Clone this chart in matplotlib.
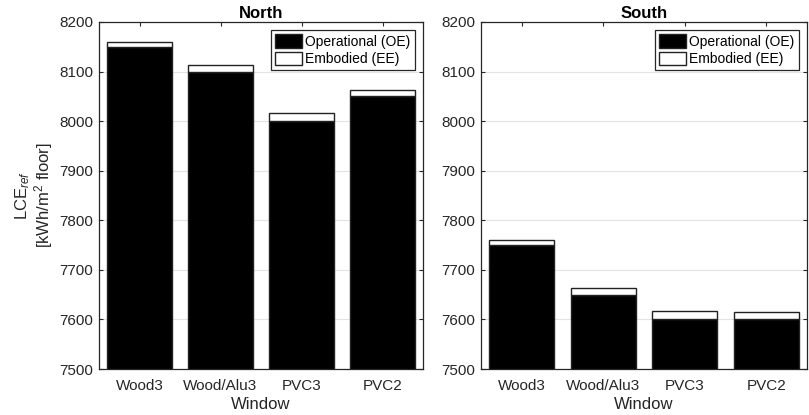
import matplotlib
matplotlib.use("Agg")
import matplotlib.pyplot as plt
import numpy as np

plt.rcParams['font.family'] = ['Liberation Sans', 'DejaVu Sans']
plt.rcParams['mathtext.fontset'] = 'custom'
plt.rcParams['mathtext.rm'] = 'Liberation Sans'
plt.rcParams['mathtext.it'] = 'Liberation Sans:italic'

windows = ['Wood3', 'Wood/Alu3', 'PVC3', 'PVC2']
north_oe = [8150, 8100, 8000, 8050]
north_ee = [10, 13, 17, 13]
south_oe = [7750, 7650, 7600, 7600]
south_ee = [10, 13, 17, 14]
titles = ['North', 'South']
yticks = [7500, 7600, 7700, 7800, 7900, 8000, 8100, 8200]

fig = plt.figure(figsize=(8.09, 4.15), dpi=100)
W, H = 809, 415
axes = [fig.add_axes([99/W, 1-369/H, 324/W, 347/H]),
        fig.add_axes([481/W, 1-369/H, 326/W, 347/H])]

for ax, oe, ee, title in zip(axes, [north_oe, south_oe], [north_ee, south_ee], titles):
    x = np.arange(1, len(windows)+1)
    ax.bar(x, oe, width=0.8, color='black', edgecolor='#222222', linewidth=1,
           label='Operational (OE)', zorder=2)
    ax.bar(x, ee, bottom=oe, width=0.8, color='white', edgecolor='#222222', linewidth=1,
           label='Embodied (EE)', zorder=2)
    ax.set_ylim(7500, 8200)
    ax.set_xlim(0.5, 4.5)
    ax.set_yticks(yticks)
    ax.set_xticks(x)
    ax.set_xticklabels(windows)
    ax.tick_params(direction='in', top=True, right=True, labelsize=11, length=3,
                   width=0.8, color='#262626', labelcolor='#262626', pad=7)
    ax.tick_params(axis='y', pad=4)
    ax.yaxis.grid(True, color='#e3e3e3', linewidth=0.8, zorder=0)
    ax.set_axisbelow(True)
    for s in ax.spines.values():
        s.set_color('#262626')
        s.set_linewidth(0.9)
    ax.set_title(title, fontsize=12, fontweight='bold', pad=3)
    ax.set_xlabel('Window', fontsize=12, labelpad=3, color='#262626')
    leg = ax.legend(loc='upper right', fontsize=10, fancybox=False, framealpha=1,
                    edgecolor='#262626', borderpad=0.3, handlelength=2.0,
                    handleheight=1.1, handletextpad=0.2, labelspacing=0.2,
                    borderaxespad=0.6)
    leg.get_frame().set_linewidth(0.9)

axes[0].set_ylabel('LCE$_{ref}$\n[kWh/m$^2$ floor]', fontsize=12, color='#262626',
                   labelpad=3, linespacing=1.0)

fig.savefig('out.png', dpi=100)
